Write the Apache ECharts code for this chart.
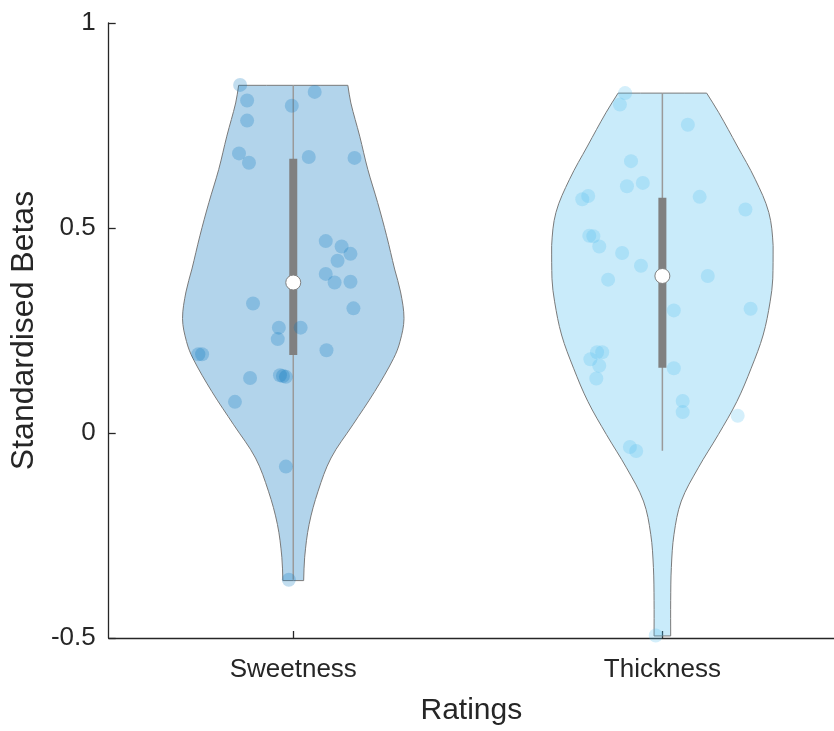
<!DOCTYPE html>
<html><head><meta charset="utf-8">
<script src="https://cdn.jsdelivr.net/npm/echarts@6/dist/echarts.min.js"></script>
<style>html,body{margin:0;padding:0;background:#fff;overflow:hidden}#c{width:834px;height:731px}</style>
</head><body><div id="c"></div>
<script>
// ---- data ----
const categories = ['Sweetness', 'Thickness'];
const categoryPositions = [1, 2];
const yTickValues = [-0.5, 0, 0.5, 1];

const sweetValues = [0.849, 0.811, 0.762, 0.798, 0.832, 0.682, 0.659, 0.673, 0.671, 0.468, 0.455, 0.437, 0.420, 0.388, 0.367, 0.369,
  0.316, 0.304, 0.257, 0.257, 0.229, 0.192, 0.192, 0.202, 0.134, 0.141, 0.139, 0.137, 0.076, -0.082, -0.358];
const sweetJitter = [-0.144, -0.125, -0.125, -0.004, 0.058, -0.147, -0.120, 0.042, 0.166, 0.088, 0.131, 0.155, 0.120, 0.088, 0.112, 0.155,
  -0.109, 0.163, -0.039, 0.020, -0.042, -0.257, -0.247, 0.090, -0.117, -0.036, -0.028, -0.020, -0.158, -0.020, -0.012];

const thickValues = [0.829, 0.801, 0.752, 0.663, 0.602, 0.610, 0.576, 0.545, 0.570, 0.578, 0.481, 0.480, 0.455, 0.439, 0.408, 0.383,
  0.374, 0.299, 0.303, 0.158, 0.197, 0.197, 0.180, 0.164, 0.133, 0.078, 0.051, 0.042, -0.034, -0.044, -0.494];
const thickJitter = [-0.101, -0.115, 0.069, -0.085, -0.096, -0.053, 0.101, 0.225, -0.217, -0.201, -0.198, -0.187, -0.171, -0.109, -0.058, 0.123,
  -0.147, 0.031, 0.239, 0.031, -0.177, -0.163, -0.195, -0.171, -0.179, 0.055, 0.055, 0.204, -0.088, -0.071, -0.018];

// density profiles (value level, relative density)
const sweetDensityY = [0.848, 0.805, 0.724, 0.643, 0.562, 0.481, 0.400, 0.344, 0.279, 0.223, 0.182, 0.101, 0.020, -0.061, -0.142, -0.223, -0.303, -0.360];
const sweetDensity  = [0.493, 0.520, 0.600, 0.673, 0.762, 0.843, 0.915, 0.969, 1.000, 0.964, 0.906, 0.735, 0.538, 0.341, 0.224, 0.143, 0.103, 0.094];
const thickDensityY = [0.829, 0.781, 0.700, 0.619, 0.538, 0.457, 0.376, 0.320, 0.239, 0.158, 0.077, -0.004, -0.085, -0.166, -0.247, -0.328, -0.409, -0.495];
const thickDensity  = [0.400, 0.510, 0.676, 0.838, 0.961, 1.000, 0.997, 0.973, 0.910, 0.802, 0.673, 0.505, 0.324, 0.171, 0.105, 0.081, 0.075, 0.075];

const q1Values      = [0.190, 0.159];
const medianValues  = [0.367, 0.383];
const q3Values      = [0.669, 0.574];
const whiskerLow    = [-0.358, -0.043];
const whiskerHigh   = [0.848, 0.829];

// ---- styles ----
const violinFills = ['rgba(0,114,189,0.3)', 'rgba(77,190,238,0.3)'];
const pointColors = ['rgba(0,114,189,0.3)', 'rgba(77,190,238,0.3)'];
const axisColor = '#262626';
const FONT = 'Liberation Sans, Arial, Helvetica, sans-serif';

const densY = [sweetDensityY, thickDensityY];
const dens = [sweetDensity, thickDensity];

function violinItem(params, api) {
  const i = params.dataIndex;
  const xPos = categoryPositions[i];
  const cx = api.coord([xPos, 0])[0];
  const half = api.size([1, 0])[0] * 0.3;
  const ys = densY[i], ds = dens[i];
  const left = [], right = [];
  let minX = Infinity, minY = Infinity, maxX = -Infinity, maxY = -Infinity;
  for (let k = 0; k < ys.length; k++) {
    const y = api.coord([xPos, ys[k]])[1];
    const l = [cx - ds[k] * half, y], r = [cx + ds[k] * half, y];
    left.push(l); right.push(r);
    minX = Math.min(minX, l[0]); maxX = Math.max(maxX, r[0]);
    minY = Math.min(minY, y); maxY = Math.max(maxY, y);
  }
  right.reverse();
  const n = left.length;
  const pts = [left[0]].concat(left, [left[n - 1]], [right[0]], right, [right[n - 1]]);
  return {
    type: 'polygon',
    shape: { points: pts, smooth: 0.35, smoothConstraint: [[minX, minY], [maxX, maxY]] },
    style: { fill: violinFills[i], stroke: '#7a7a7a', lineWidth: 1 }
  };
}

function boxItem(params, api) {
  const i = params.dataIndex;
  const x = categoryPositions[i];
  const cx = api.coord([x, 0])[0];
  const yHi = api.coord([x, whiskerHigh[i]])[1];
  const yLo = api.coord([x, whiskerLow[i]])[1];
  const yQ3 = api.coord([x, q3Values[i]])[1];
  const yQ1 = api.coord([x, q1Values[i]])[1];
  const yMed = api.coord([x, medianValues[i]])[1];
  const bw = 8;
  return {
    type: 'group',
    children: [
      { type: 'line', shape: { x1: cx, y1: yHi, x2: cx, y2: yLo }, style: { stroke: '#9a9a9a', lineWidth: 1.5 } },
      { type: 'rect', shape: { x: cx - bw / 2, y: yQ3, width: bw, height: yQ1 - yQ3 }, style: { fill: '#808080' } },
      { type: 'circle', shape: { cx: cx, cy: yMed, r: 7.5 }, style: { fill: '#ffffff', stroke: '#808080', lineWidth: 1 } }
    ]
  };
}

const chart = echarts.init(document.getElementById('c'), null, { renderer: 'canvas' });
chart.setOption({
  animation: false,
  backgroundColor: '#ffffff',
  grid: { left: 105, top: 23, right: 0, height: 618, containLabel: false },
  xAxis: {
    type: 'value', min: 0.5, max: 0.5 + 729 / 371,
    axisLine: { show: true, onZero: false, lineStyle: { color: axisColor, width: 1.3 } },
    axisTick: { show: true, customValues: categoryPositions, inside: true, length: 7, lineStyle: { color: axisColor, width: 1.3 } },
    axisLabel: {
      show: true, customValues: categoryPositions, fontSize: 26, color: axisColor, fontFamily: FONT, margin: 19,
      formatter: (v) => categories[categoryPositions.indexOf(Math.round(v))] || ''
    },
    splitLine: { show: false },
    name: 'Ratings', nameLocation: 'middle', nameGap: 58,
    nameTextStyle: { fontSize: 30, color: axisColor, fontFamily: FONT }
  },
  yAxis: {
    type: 'value', min: yTickValues[0], max: yTickValues[yTickValues.length - 1], interval: 0.5,
    axisLine: { show: true, onZero: false, lineStyle: { color: axisColor, width: 1.3 } },
    axisTick: { show: true, inside: true, length: 7, lineStyle: { color: axisColor, width: 1.3 } },
    axisLabel: { fontSize: 26, color: axisColor, fontFamily: FONT, margin: 13 },
    splitLine: { show: false },
    name: 'Standardised Betas', nameLocation: 'middle', nameGap: 62,
    nameTextStyle: { fontSize: 32, color: axisColor, fontFamily: FONT }
  },
  series: [
    { type: 'custom', renderItem: violinItem, data: [[1], [2]], silent: true },
    {
      type: 'scatter', symbolSize: 14,
      itemStyle: { color: pointColors[0] },
      data: sweetValues.map((v, k) => [categoryPositions[0] + sweetJitter[k], v])
    },
    {
      type: 'scatter', symbolSize: 14,
      itemStyle: { color: pointColors[1] },
      data: thickValues.map((v, k) => [categoryPositions[1] + thickJitter[k], v])
    },
    { type: 'custom', renderItem: boxItem, data: [[1], [2]], silent: true }
  ]
});
</script>
</body></html>
